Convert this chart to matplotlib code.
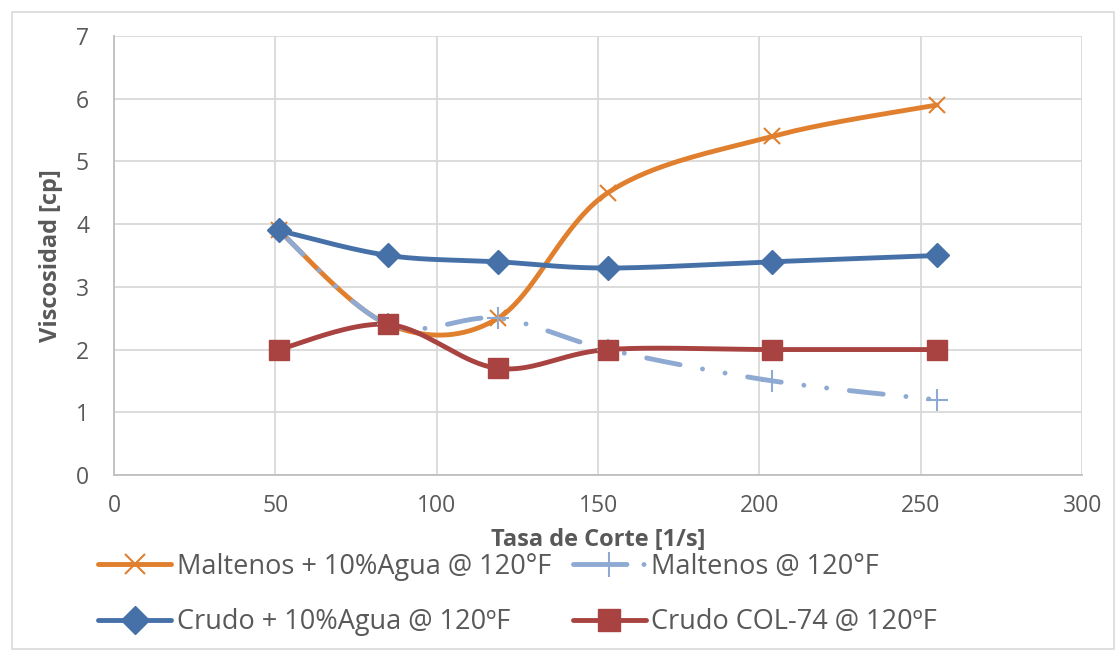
import numpy as np
import matplotlib
matplotlib.use("Agg")
import matplotlib.pyplot as plt
from matplotlib.patches import FancyBboxPatch

x = [51, 85, 119, 153, 204, 255]
maltenos_agua = [3.9, 2.4, 2.5, 4.5, 5.4, 5.9]
maltenos = [3.9, 2.4, 2.5, 2.0, 1.5, 1.2]
crudo_agua = [3.9, 3.5, 3.4, 3.3, 3.4, 3.5]
crudo_col74 = [2.0, 2.4, 1.7, 2.0, 2.0, 2.0]

labels = ["Maltenos + 10%Agua @ 120°F", "Maltenos @ 120°F",
          "Crudo + 10%Agua @ 120ºF", "Crudo COL-74 @ 120ºF"]

plt.rcParams['font.family'] = ['Open Sans', 'DejaVu Sans']

fig = plt.figure(figsize=(11.18, 6.52), dpi=100)
ax = fig.add_axes([0.102, 0.2715, 0.866, 0.6733])

SX = 968 / 300.0
SY = 439 / 7.0


def smooth(xs, ys, n=40):
    px = np.array(xs, float) * SX
    py = np.array(ys, float) * SY
    P = np.column_stack([px, py])
    out = []
    m = len(P)
    for i in range(m - 1):
        p0 = P[i - 1] if i > 0 else P[i]
        p1 = P[i]
        p2 = P[i + 1]
        p3 = P[i + 2] if i + 2 < m else P[i + 1]
        c1 = p1 + (p2 - p0) / 6.0
        c2 = p2 - (p3 - p1) / 6.0
        t = np.linspace(0, 1, n)[:, None]
        seg = ((1 - t) ** 3) * p1 + 3 * ((1 - t) ** 2) * t * c1 + 3 * (1 - t) * t ** 2 * c2 + t ** 3 * p2
        if i > 0:
            seg = seg[1:]
        out.append(seg)
    S = np.vstack(out)
    return S[:, 0] / SX, S[:, 1] / SY


c_or = "#E0802F"
c_lb = "#8FAAD2"
c_bl = "#4571A8"
c_rd = "#A84341"
lw = 3.5
dashdotdot = (0, (7, 4.7, 0.01, 4.7, 0.01, 4.7))

series = [
    (maltenos_agua, c_or, 'x', 12, '-', labels[0]),
    (maltenos, c_lb, '+', 16, dashdotdot, labels[1]),
    (crudo_agua, c_bl, 'D', 12, '-', labels[2]),
    (crudo_col74, c_rd, 's', 14, '-', labels[3]),
]

handles = []
for ys, col, mk, ms, ls, lab in series:
    sx, sy = smooth(x, ys)
    ax.plot(sx, sy, color=col, lw=lw, linestyle=ls, solid_capstyle='round',
            dash_capstyle='round', zorder=3)
    mew = 1.5 if mk in 'x+' else 1
    ax.plot(x, ys, linestyle='none', marker=mk, markersize=ms, color=col,
            markeredgecolor=col, markeredgewidth=mew, zorder=4)
    hls = (0, (11, 3.5, 0.01, 4.7)) if ls != '-' else '-'
    h, = ax.plot([], [], color=col, lw=lw, linestyle=hls, marker=mk, markersize=ms + 2,
                 markeredgecolor=col, markeredgewidth=mew,
                 solid_capstyle='round', dash_capstyle='round', label=lab)
    handles.append(h)

ax.set_xlim(0, 300)
ax.set_ylim(0, 7)
ax.set_xticks(range(0, 301, 50))
ax.set_yticks(range(0, 8))
ax.grid(True, color="#D9D9D9", lw=1.3, zorder=0)
ax.set_axisbelow(True)
for s in ['top', 'right']:
    ax.spines[s].set_visible(False)
for s in ['left', 'bottom']:
    ax.spines[s].set_color("#BFBFBF")
    ax.spines[s].set_linewidth(1.3)
ax.tick_params(length=0, labelsize=16.5, colors="#595959")
ax.tick_params(axis='x', pad=14)
ax.tick_params(axis='y', pad=18)
ax.set_xlabel("Tasa de Corte [1/s]", fontsize=17, fontweight='bold', color="#595959", labelpad=7)
ax.set_ylabel("Viscosidad [cp]", fontsize=17, fontweight='bold', color="#595959", labelpad=9)

order = [0, 2, 1, 3]
leg = fig.legend(handles=[handles[i] for i in order], ncol=2, loc='upper left',
                 bbox_to_anchor=(0.0877, 0.152),
                 frameon=False, fontsize=19.5, labelcolor="#595959", handlelength=2.7,
                 handletextpad=0.2, columnspacing=0.8, labelspacing=1.0, borderaxespad=0,
                 borderpad=0)

border = FancyBboxPatch((0.011, 0.005), 0.985, 0.976, boxstyle="square,pad=0",
                        transform=fig.transFigure, fill=False, edgecolor="#D9D9D9", lw=1.2)
fig.patches.append(border)

fig.savefig("out.png", dpi=100)
